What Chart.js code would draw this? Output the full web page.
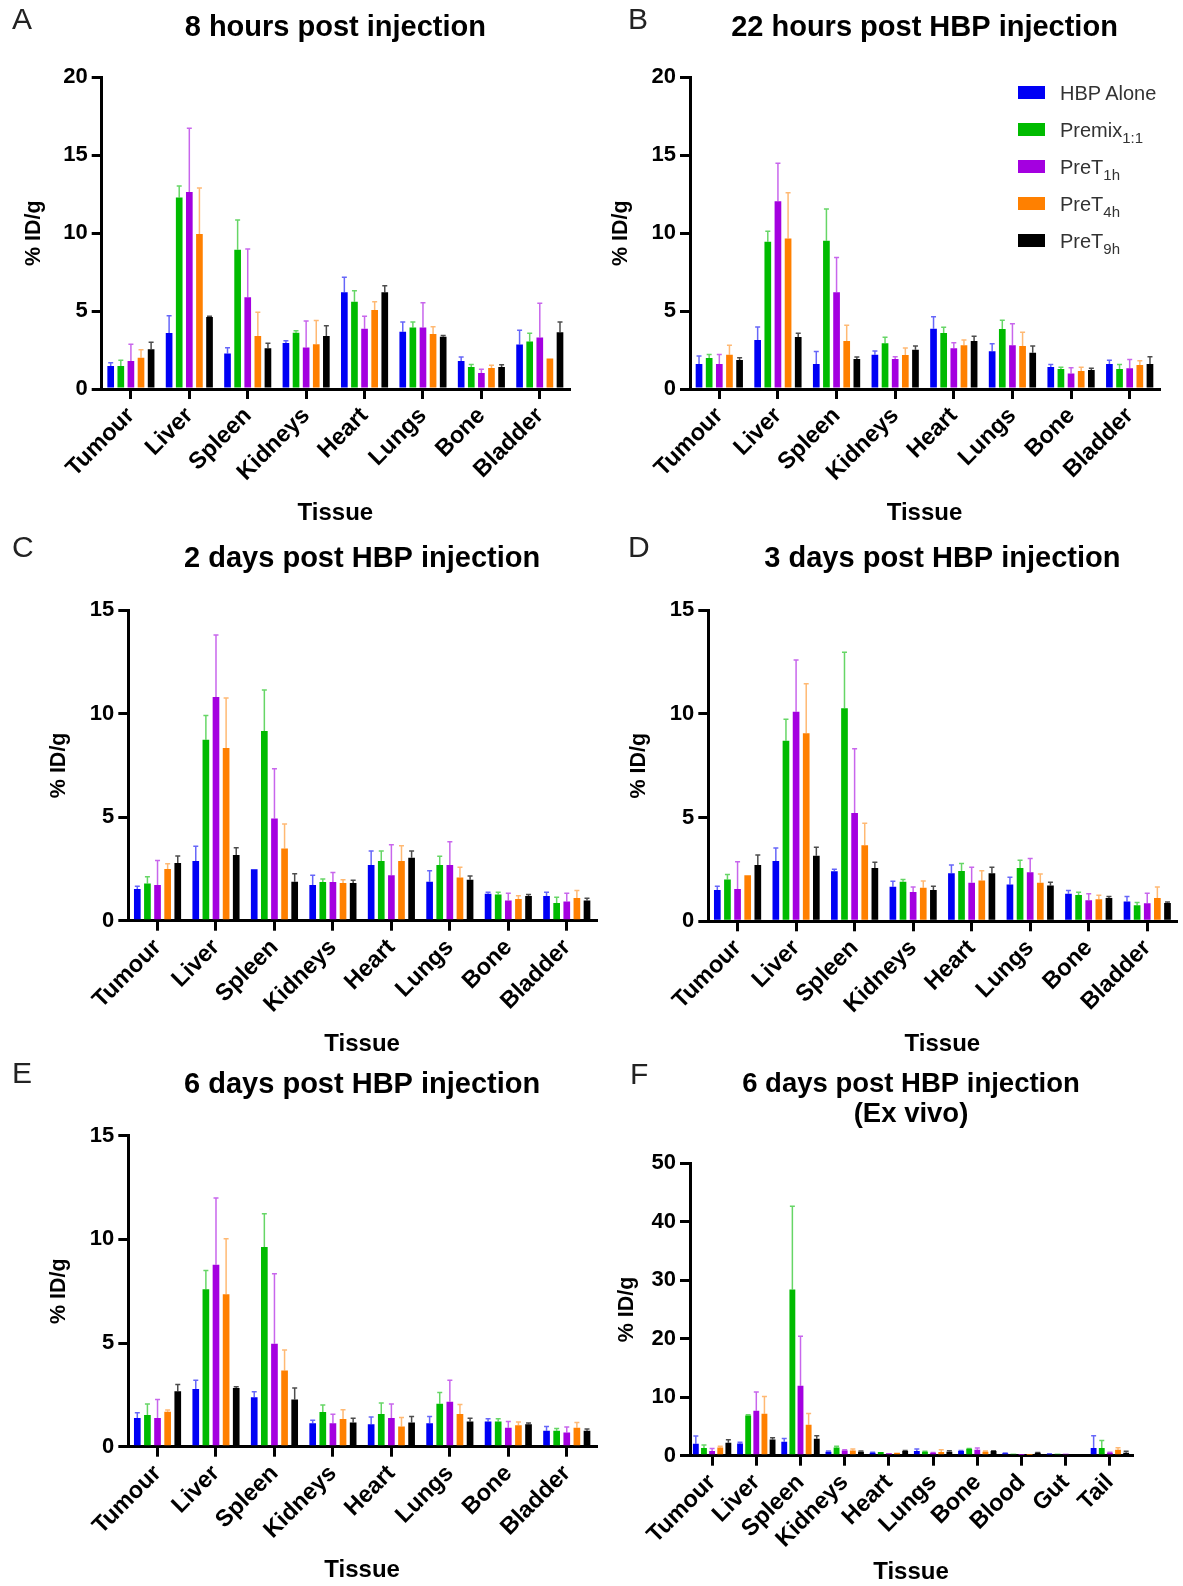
<!DOCTYPE html>
<html>
<head>
<meta charset="utf-8">
<title>Biodistribution of HBP</title>
<script src="https://cdn.jsdelivr.net/npm/chart.js@4.4.1/dist/chart.umd.min.js"></script>
<style>
  html, body { margin: 0; padding: 0; background: #fff; }
  #figure { position: relative; width: 1183px; height: 1586px; background: #fff; overflow: hidden;
            font-family: "Liberation Sans", Arial, sans-serif; }
  #figure canvas { position: absolute; }
  .panel-letter { position: absolute; font-size: 30px; line-height: 30px; color: #222; }
  #legend { position: absolute; left: 0; top: 0; }
  .leg-box { position: absolute; width: 27px; height: 13px; }
  .leg-text { position: absolute; font-size: 20px; line-height: 22px; color: #333; white-space: nowrap; }
  .leg-text sub { font-size: 15px; vertical-align: -6px; line-height: 0; }
</style>
</head>
<body>
<div id="figure"></div>
<script>
// ---- data ----
const tissues = ['Tumour', 'Liver', 'Spleen', 'Kidneys', 'Heart', 'Lungs', 'Bone', 'Bladder'];
const tissuesExVivo = ['Tumour', 'Liver', 'Spleen', 'Kidneys', 'Heart', 'Lungs', 'Bone', 'Blood', 'Gut', 'Tail'];
const seriesNames = ['HBP Alone', 'Premix', 'PreT', 'PreT', 'PreT'];
const seriesSubs = ['', '1:1', '1h', '4h', '9h'];

// each panel: rows = HBP Alone, Premix 1:1, PreT 1h, PreT 4h, PreT 9h
const mean8h = [
  [1.48, 3.60, 2.27, 2.95, 6.20, 3.68, 1.80, 2.86],
  [1.48, 12.28, 8.94, 3.61, 5.60, 3.94, 1.41, 3.05],
  [1.80, 12.64, 5.88, 2.67, 3.87, 3.94, 1.03, 3.30],
  [2.00, 9.95, 3.40, 2.87, 5.07, 3.53, 1.35, 1.95],
  [2.55, 4.62, 2.61, 3.40, 6.20, 3.36, 1.41, 3.64]
];
const sd8h = [
  [0.21, 1.10, 0.38, 0.15, 0.97, 0.62, 0.25, 0.91],
  [0.36, 0.75, 1.91, 0.13, 0.71, 0.36, 0.17, 0.52],
  [1.07, 4.09, 3.10, 1.69, 0.79, 1.60, 0.23, 2.20],
  [0.52, 2.95, 1.52, 1.53, 0.53, 0.47, 0.17, 0.00],
  [0.45, 0.04, 0.32, 0.66, 0.43, 0.08, 0.15, 0.66]
];
const mean22h = [
  [1.60, 3.14, 1.60, 2.20, 3.87, 2.42, 1.41, 1.60],
  [1.99, 9.45, 9.52, 2.93, 3.59, 3.85, 1.28, 1.28],
  [1.60, 12.04, 6.20, 1.93, 2.61, 2.80, 1.00, 1.33],
  [2.20, 9.65, 3.08, 2.18, 2.80, 2.76, 1.15, 1.54],
  [1.86, 3.34, 1.93, 2.52, 3.08, 2.33, 1.22, 1.60]
];
const sd22h = [
  [0.52, 0.84, 0.80, 0.24, 0.77, 0.49, 0.17, 0.24],
  [0.23, 0.67, 2.03, 0.39, 0.37, 0.56, 0.11, 0.30],
  [0.62, 2.44, 2.23, 0.14, 0.36, 1.39, 0.37, 0.57],
  [0.60, 2.95, 1.01, 0.45, 0.34, 0.88, 0.24, 0.28],
  [0.15, 0.23, 0.12, 0.24, 0.30, 0.43, 0.11, 0.47]
];
const mean2d = [
  [1.53, 2.88, 2.48, 1.72, 2.69, 1.88, 1.30, 1.19],
  [1.79, 8.74, 9.16, 1.87, 2.88, 2.69, 1.26, 0.85],
  [1.72, 10.80, 4.94, 1.87, 2.19, 2.69, 0.98, 0.93],
  [2.49, 8.34, 3.49, 1.82, 2.88, 2.09, 1.05, 1.09],
  [2.78, 3.17, 1.88, 1.82, 3.04, 1.98, 1.19, 0.98]
];
const sd2d = [
  [0.13, 0.71, 0.00, 0.47, 0.67, 0.53, 0.07, 0.18],
  [0.33, 1.17, 1.98, 0.14, 0.48, 0.42, 0.11, 0.28],
  [1.19, 2.99, 2.40, 0.46, 1.48, 1.12, 0.34, 0.39],
  [0.26, 2.41, 1.18, 0.16, 0.74, 0.49, 0.16, 0.37],
  [0.34, 0.35, 0.39, 0.13, 0.32, 0.18, 0.08, 0.10]
];
const mean3d = [
  [1.51, 2.91, 2.41, 1.67, 2.31, 1.77, 1.33, 0.96],
  [2.01, 8.70, 10.26, 1.90, 2.42, 2.57, 1.27, 0.77],
  [1.56, 10.10, 5.22, 1.41, 1.86, 2.36, 1.01, 0.87],
  [2.22, 9.06, 3.66, 1.62, 1.96, 1.86, 1.06, 1.12],
  [2.71, 3.16, 2.57, 1.51, 2.31, 1.72, 1.12, 0.88]
];
const sd3d = [
  [0.18, 0.62, 0.10, 0.26, 0.40, 0.35, 0.16, 0.24],
  [0.25, 1.03, 2.70, 0.11, 0.37, 0.37, 0.13, 0.13],
  [1.31, 2.49, 3.10, 0.24, 0.74, 0.66, 0.32, 0.48],
  [0.00, 2.39, 1.06, 0.32, 0.48, 0.42, 0.19, 0.53],
  [0.49, 0.41, 0.27, 0.18, 0.29, 0.16, 0.08, 0.05]
];
const mean6d = [
  [1.38, 2.78, 2.38, 1.13, 1.08, 1.13, 1.22, 0.77],
  [1.53, 7.59, 9.63, 1.67, 1.58, 2.07, 1.22, 0.77],
  [1.38, 8.78, 4.97, 1.13, 1.38, 2.17, 0.92, 0.68],
  [1.69, 7.35, 3.68, 1.33, 0.98, 1.58, 1.03, 0.92],
  [2.68, 2.83, 2.28, 1.17, 1.17, 1.22, 1.08, 0.77]
];
const sd6d = [
  [0.26, 0.42, 0.27, 0.14, 0.35, 0.33, 0.13, 0.21],
  [0.53, 0.91, 1.61, 0.34, 0.53, 0.55, 0.13, 0.11],
  [0.90, 3.21, 3.37, 0.43, 0.68, 1.03, 0.30, 0.27],
  [0.08, 2.68, 0.98, 0.45, 0.43, 0.45, 0.16, 0.25],
  [0.32, 0.06, 0.55, 0.20, 0.29, 0.15, 0.06, 0.08]
];
const meanExVivo = [
  [2.05, 2.10, 2.39, 0.68, 0.51, 0.80, 0.80, 0.40, 0.30, 1.31],
  [1.31, 6.89, 28.42, 1.42, 0.63, 0.68, 1.20, 0.34, 0.34, 1.31],
  [0.80, 7.69, 11.96, 0.91, 0.40, 0.50, 1.03, 0.10, 0.34, 0.50],
  [1.42, 7.18, 5.30, 0.90, 0.51, 0.63, 0.68, 0.10, 0.23, 1.03],
  [2.22, 2.79, 2.90, 0.68, 0.80, 0.68, 0.80, 0.50, 0.17, 0.50]
];
const sdExVivo = [
  [1.31, 0.18, 0.57, 0.12, 0.09, 0.34, 0.10, 0.05, 0.03, 2.11],
  [0.51, 0.11, 14.23, 0.18, 0.00, 0.07, 0.05, 0.00, 0.00, 1.31],
  [0.45, 3.19, 8.48, 0.09, 0.00, 0.05, 0.28, 0.00, 0.00, 0.10],
  [0.18, 2.96, 1.93, 0.24, 0.00, 0.40, 0.12, 0.00, 0.00, 0.34],
  [0.51, 0.29, 0.52, 0.12, 0.10, 0.17, 0.05, 0.05, 0.00, 0.24]
];

// ---- styles ----
const FONT = '"Liberation Sans", Arial, sans-serif';
const barColors = ['#0000f5', '#00bb00', '#a400e0', '#ff8000', '#000000'];
const errColors = ['rgba(0,0,245,0.6)', 'rgba(0,187,0,0.6)', 'rgba(164,0,224,0.6)', 'rgba(255,128,0,0.55)', 'rgba(0,0,0,0.7)'];

Chart.defaults.font.family = FONT;
Chart.defaults.color = '#000';

// upward error bars, drawn through the y scale
const errorBars = {
  id: 'errorBars',
  afterDatasetsDraw(chart) {
    const ctx = chart.ctx;
    const y = chart.scales.y;
    chart.data.datasets.forEach((ds, i) => {
      const meta = chart.getDatasetMeta(i);
      meta.data.forEach((bar, j) => {
        const err = ds.errors[j];
        if (!err) return;
        const base = y.getPixelForValue(ds.data[j]);
        const top = y.getPixelForValue(ds.data[j] + err);
        ctx.save();
        ctx.strokeStyle = ds.errorColor;
        ctx.lineWidth = 1.5;
        ctx.beginPath();
        ctx.moveTo(bar.x, base);
        ctx.lineTo(bar.x, top);
        ctx.moveTo(bar.x - 2.5, top);
        ctx.lineTo(bar.x + 2.5, top);
        ctx.stroke();
        ctx.restore();
      });
    });
  }
};

const figure = document.getElementById('figure');

function makePanel(p) {
  const r = p.rect;
  const canvas = document.createElement('canvas');
  canvas.width = r.w;
  canvas.height = r.h;
  canvas.style.left = r.left + 'px';
  canvas.style.top = r.top + 'px';
  figure.appendChild(canvas);

  const nLines = Array.isArray(p.title) ? p.title.length : 1;
  const titleLH = p.titleSize * p.titleLine;
  const tPadTop = p.titleY - r.top - titleLH / 2;
  const tPadBottom = p.axis.top - r.top - tPadTop - titleLH * nLines;
  const yAxisW = p.axis.left - r.left;
  const xAxisH = r.top + r.h - p.axis.bottom;
  const padRight = r.left + r.w - p.axis.right;
  const yTitlePad = p.yTitleX - r.left - 21.5 * 1.2 / 2;
  const xTitlePad = r.top + r.h - p.xTitleY - 24 / 2;

  const datasets = p.means.map((vals, i) => ({
    label: seriesNames[i] + seriesSubs[i],
    data: vals,
    errors: p.sds[i],
    backgroundColor: barColors[i],
    errorColor: errColors[i],
    borderWidth: 0,
    barPercentage: p.barPct,
    categoryPercentage: p.catPct
  }));

  return new Chart(canvas.getContext('2d'), {
    type: 'bar',
    data: { labels: p.labels, datasets: datasets },
    options: {
      responsive: false,
      animation: false,
      devicePixelRatio: 1,
      layout: { padding: { left: 0, right: padRight, top: 0, bottom: 0 } },
      plugins: {
        legend: { display: false },
        tooltip: { enabled: false },
        title: {
          display: true,
          text: p.title,
          fullSize: false,
          color: '#000',
          font: { size: p.titleSize, weight: 'bold', lineHeight: p.titleLine },
          padding: { top: tPadTop, bottom: tPadBottom }
        }
      },
      scales: {
        x: {
          offset: true,
          grid: { display: true, drawOnChartArea: false, drawTicks: true, tickLength: 10, color: '#000', lineWidth: 3, offset: false },
          border: { display: true, color: '#000', width: 3 },
          ticks: { color: '#000', font: { size: 23.5, weight: 'bold' }, minRotation: 45, maxRotation: 45, autoSkip: false, padding: 3 },
          title: { display: true, text: 'Tissue', color: '#000', font: { size: 24, weight: 'bold', lineHeight: 1 }, padding: { top: 0, bottom: xTitlePad } },
          afterFit: s => { s.height = xAxisH; }
        },
        y: {
          min: 0,
          max: p.yMax,
          grid: { display: true, drawOnChartArea: false, drawTicks: true, tickLength: 10, color: '#000', lineWidth: 3 },
          border: { display: true, color: '#000', width: 3 },
          ticks: { stepSize: p.yStep, color: '#000', font: { size: 22, weight: 'bold' }, padding: 4 },
          title: { display: true, text: '% ID/g', color: '#000', font: { size: 21.5, weight: 'bold', lineHeight: 1.2 }, padding: { top: yTitlePad, bottom: 0 } },
          afterFit: s => { s.width = yAxisW; }
        }
      }
    },
    plugins: [errorBars]
  });
}

const panels = [
  { letter: 'A', letterPos: [12, 4], title: '8 hours post injection', labels: tissues, means: mean8h, sds: sd8h, yMax: 20, yStep: 5,
    rect: { left: 0, top: 0, w: 590, h: 530 }, axis: { left: 101.7, top: 77.3, bottom: 389, right: 569 },
    titleY: 28, titleSize: 29, titleLine: 1.05, yTitleX: 34, xTitleY: 513, barPct: 0.66, catPct: 0.865 },
  { letter: 'B', letterPos: [628, 4], title: '22 hours post HBP injection', labels: tissues, means: mean22h, sds: sd22h, yMax: 20, yStep: 5,
    rect: { left: 590, top: 0, w: 593, h: 530 }, axis: { left: 690, top: 77.3, bottom: 389, right: 1159 },
    titleY: 28, titleSize: 29, titleLine: 1.05, yTitleX: 621.5, xTitleY: 513, barPct: 0.66, catPct: 0.865 },
  { letter: 'C', letterPos: [12, 532], title: '2 days post HBP injection', labels: tissues, means: mean2d, sds: sd2d, yMax: 15, yStep: 5,
    rect: { left: 0, top: 530, w: 600, h: 530 }, axis: { left: 128.3, top: 610, bottom: 920.7, right: 596 },
    titleY: 559, titleSize: 29, titleLine: 1.05, yTitleX: 58.6, xTitleY: 1044, barPct: 0.66, catPct: 0.865 },
  { letter: 'D', letterPos: [628, 532], title: '3 days post HBP injection', labels: tissues, means: mean3d, sds: sd3d, yMax: 15, yStep: 5,
    rect: { left: 600, top: 530, w: 583, h: 530 }, axis: { left: 708.3, top: 610, bottom: 921.3, right: 1176.5 },
    titleY: 559, titleSize: 29, titleLine: 1.05, yTitleX: 639, xTitleY: 1044, barPct: 0.66, catPct: 0.865 },
  { letter: 'E', letterPos: [12, 1058], title: '6 days post HBP injection', labels: tissues, means: mean6d, sds: sd6d, yMax: 15, yStep: 5,
    rect: { left: 0, top: 1060, w: 600, h: 526 }, axis: { left: 128.3, top: 1135.7, bottom: 1446.7, right: 596 },
    titleY: 1085, titleSize: 29, titleLine: 1.05, yTitleX: 58.6, xTitleY: 1570, barPct: 0.66, catPct: 0.865 },
  { letter: 'F', letterPos: [630, 1059], title: ['6 days post HBP injection', '(Ex vivo)'], labels: tissuesExVivo, means: meanExVivo, sds: sdExVivo, yMax: 50, yStep: 10,
    rect: { left: 600, top: 1050, w: 583, h: 536 }, axis: { left: 690, top: 1163.3, bottom: 1455.7, right: 1132 },
    titleY: 1084, titleSize: 27.5, titleLine: 1.09, yTitleX: 627, xTitleY: 1572, barPct: 0.72, catPct: 0.92 }
];

panels.forEach(p => {
  makePanel(p);
  const l = document.createElement('div');
  l.className = 'panel-letter';
  l.textContent = p.letter;
  l.style.left = p.letterPos[0] + 'px';
  l.style.top = p.letterPos[1] + 'px';
  figure.appendChild(l);
});

// legend (panel B), built from the series names
const legend = document.createElement('div');
legend.id = 'legend';
seriesNames.forEach((name, i) => {
  const top = 85.5 + i * 37;
  const box = document.createElement('div');
  box.className = 'leg-box';
  box.style.left = '1018px';
  box.style.top = top + 'px';
  box.style.background = barColors[i];
  legend.appendChild(box);
  const txt = document.createElement('div');
  txt.className = 'leg-text';
  txt.style.left = '1060px';
  txt.style.top = (top - 3.5) + 'px';
  txt.textContent = name;
  if (seriesSubs[i]) {
    const sub = document.createElement('sub');
    sub.textContent = seriesSubs[i];
    txt.appendChild(sub);
  }
  legend.appendChild(txt);
});
figure.appendChild(legend);
</script>
</body>
</html>
